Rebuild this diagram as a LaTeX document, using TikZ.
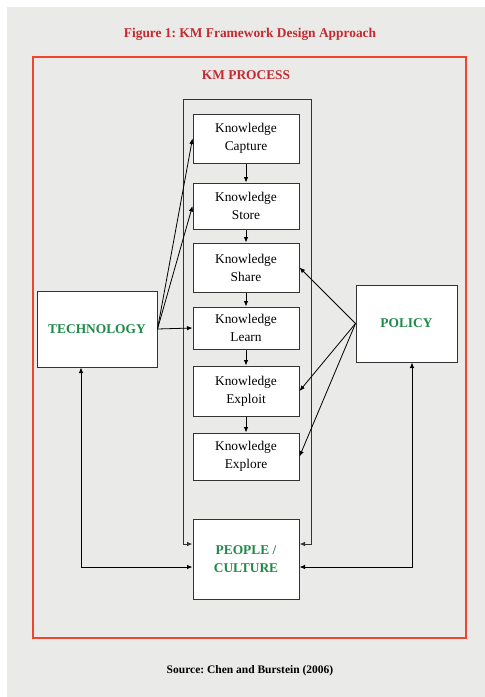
\documentclass[tikz,border=0pt]{standalone}
\usepackage{fontspec}
\setmainfont{Liberation Serif}
\usetikzlibrary{arrows.meta}
\frenchspacing

\definecolor{titlered}{HTML}{C42A30}
\definecolor{framered}{HTML}{F0442C}
\definecolor{kmgreen}{HTML}{1E8A48}
\definecolor{paper}{HTML}{EAEAE8}

\begin{document}
\begin{tikzpicture}[x=1pt, y=-1pt,
    every node/.style={font=\fontsize{13.4pt}{18pt}\selectfont},
    kbox/.style={draw=black!80, line width=1pt, fill=white, minimum width=106pt, align=center, inner sep=0pt},
    bigbox/.style={draw=black!80, line width=1pt, fill=white, font=\fontsize{13.4pt}{18pt}\selectfont\bfseries, text=kmgreen, align=center, inner sep=0pt},
    link/.style={line width=0.8pt, -{Latex[length=5.5pt,width=4.5pt]}},
    both/.style={line width=0.8pt, {Latex[length=5.5pt,width=4.5pt]}-{Latex[length=5.5pt,width=4.5pt]}}]
    \useasboundingbox (0,0) rectangle (485,697);
    \fill[white] (0,0) rectangle (485,697);
    \fill[paper] (7,7) rectangle (485,697);

    \node[text=titlered, font=\fontsize{13.4pt}{16pt}\selectfont\bfseries] (title) at (250,34) {Figure 1: KM Framework Design Approach};
    \draw[framered, line width=1.2pt] (33,57) rectangle (466,638);
    \node[text=titlered, font=\fontsize{13.4pt}{16pt}\selectfont\bfseries] (kmprocess) at (246,75) {KM PROCESS};

    % process column
    \node[kbox, minimum height=49pt] (capture) at (246,138.5) {Knowledge\\Capture};
    \node[kbox, minimum height=46pt] (store)   at (246,206)   {Knowledge\\Store};
    \node[kbox, minimum height=49pt] (share)   at (246,267.5) {Knowledge\\Share};
    \node[kbox, minimum height=42pt] (learn)   at (246,328)   {Knowledge\\Learn};
    \node[kbox, minimum height=50pt] (exploit) at (246,391)   {Knowledge\\Exploit};
    \node[kbox, minimum height=47pt] (explore) at (246,456.5) {Knowledge\\Explore};
    \foreach \a/\b in {capture/store, store/share, share/learn, learn/exploit, exploit/explore}
        \draw[link] (\a) -- (\b);

    \node[bigbox, minimum width=120pt, minimum height=76pt] (tech)   at (97,329)    {TECHNOLOGY};
    \node[bigbox, minimum width=101pt, minimum height=77pt] (policy) at (406.5,323.5) {POLICY};
    \node[bigbox, minimum width=106pt, minimum height=80pt] (people) at (246,559)   {PEOPLE /\\CULTURE};

    % open frame round the process column
    \coordinate (ptl) at (183,99);
    \coordinate (ptr) at (311,99);
    \draw[both, draw=black!80, line width=1pt] ([yshift=15pt]people.west) -| (ptl) -- (ptr) |- ([yshift=15pt]people.east);

    \foreach \k in {capture, store, learn}
        \draw[link] (tech.east) -- (\k.west);
    \foreach \k in {share, exploit, explore}
        \draw[link] (policy.west) -- (\k.east);

    \draw[both] ([xshift=-16pt]tech.south) |- ([yshift=-8pt]people.west);
    \draw[both] ([xshift=5.5pt]policy.south) |- ([yshift=-8pt]people.east);

    \node[font=\fontsize{11.5pt}{14pt}\selectfont\bfseries] (source) at (250,671) {Source: Chen and Burstein (2006)};
\end{tikzpicture}
\end{document}
